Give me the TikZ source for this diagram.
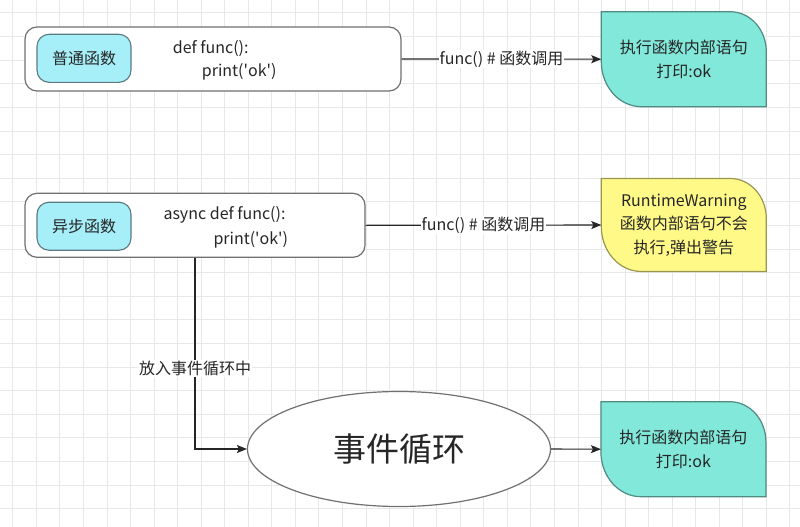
\documentclass[tikz,border=0pt]{standalone}
\usepackage{fontspec}
\setmainfont{Noto Sans CJK SC}
\usetikzlibrary{arrows.meta,shapes.geometric,backgrounds}

\definecolor{txt}{HTML}{262626}
\definecolor{tagfill}{HTML}{A6EEF8}
\definecolor{tagline}{HTML}{5B7B80}
\definecolor{boxline}{HTML}{707070}
\definecolor{okfill}{HTML}{82E8DA}
\definecolor{okline}{HTML}{4F8A83}
\definecolor{warnfill}{HTML}{FFFA88}
\definecolor{warnline}{HTML}{9A9650}
\definecolor{gridminor}{HTML}{E8E8E8}

\tikzset{
  fnbox/.style={draw=boxline, line width=1.2pt, fill=white, rounded corners=12pt, minimum height=64pt},
  tagbox/.style={draw=tagline, line width=1.1pt, fill=tagfill, rounded corners=12pt,
    minimum width=94pt, minimum height=48pt, text=txt, font=\fontsize{16}{18}\selectfont},
  codetext/.style={anchor=west, align=left, text=txt, inner sep=0pt},
  leaf/.style={minimum width=165pt, minimum height=95pt, outer sep=0pt, align=center,
    text=txt, font=\fontsize{16}{23.5}\selectfont},
  calllabel/.style={fill=white, text=txt, font=\fontsize{16}{18}\selectfont, inner sep=1pt},
  conn/.style={draw=black!85, line width=1.1pt, -{Stealth[length=10pt,width=8pt,inset=2pt]}},
}

\begin{document}
\begin{tikzpicture}[x=1pt, y=-1pt]
    \useasboundingbox (0,0) rectangle (800,527);

    % Normal function
    \node[fnbox, minimum width=376pt] (fn1) at (213,59) {};
    \node[tagbox] (tag1) at (84,58.3) {普通函数};
    \node[codetext, font=\fontsize{16}{23.4}\selectfont] (code1) at (172.7,60)
        {def func():\\\hspace*{29pt}print(\textquotesingle ok\textquotesingle)};

    % Async function
    \node[fnbox, minimum width=340pt] (fn2) at (195,225.3) {};
    \node[tagbox] (tag2) at (84,226.2) {异步函数};
    \node[codetext, font=\fontsize{16}{25}\selectfont] (code2) at (163.3,227.5)
        {async def func():\\\hspace*{50pt}print(\textquotesingle ok\textquotesingle)};

    % Results
    \node[leaf] (ok1) at (683.8,59.2) {执行函数内部语句\\打印:ok};
    \node[leaf, minimum height=93pt] (warn) at (683.8,225) {RuntimeWarning\\函数内部语句不会\\执行,弹出警告};
    \node[leaf] (ok2) at (683.4,449.2) {执行函数内部语句\\打印:ok};

    % Event loop
    \node[ellipse, draw=boxline, line width=1.2pt, fill=white, minimum width=303pt, minimum height=115pt,
        inner sep=0pt, text=txt, font=\fontsize{33}{36}\selectfont] (loop) at (399,449) {事件循环};

    % Calls
    \draw[conn] (fn1.east) -- node[midway, calllabel] {func() \# 函数调用} (ok1.west);
    \draw[conn] (fn2.east) -- node[midway, calllabel] {func() \# 函数调用} (warn.west);
    \draw[conn] (fn2.south) |- node[pos=0.29, calllabel] {放入事件循环中} (loop.west);
    \draw[conn] (loop.east) -- (ok2.west);

    \begin{scope}[on background layer]
        % Grid
        \foreach \i in {0,...,33}
            \draw[gridminor, line width=0.8pt] ({12.7+23.55*\i},0) -- ({12.7+23.55*\i},527);
        \foreach \j in {0,...,21}
            \draw[gridminor, line width=0.8pt] (0,{12.9+23.6*\j}) -- (800,{12.9+23.6*\j});

        % Result shapes
        \foreach \n/\f/\l in {ok1/okfill/okline, warn/warnfill/warnline, ok2/okfill/okline}
            \draw[fill=\f, draw=\l, line width=1.2pt] (\n.north west) -- ([xshift=-36pt]\n.north east)
                arc[start angle=90, end angle=0, x radius=36pt, y radius=40pt] -- (\n.south east)
                -- ([xshift=40pt]\n.south west)
                arc[start angle=270, end angle=180, x radius=40pt, y radius=45pt] -- cycle;
    \end{scope}
\end{tikzpicture}
\end{document}
